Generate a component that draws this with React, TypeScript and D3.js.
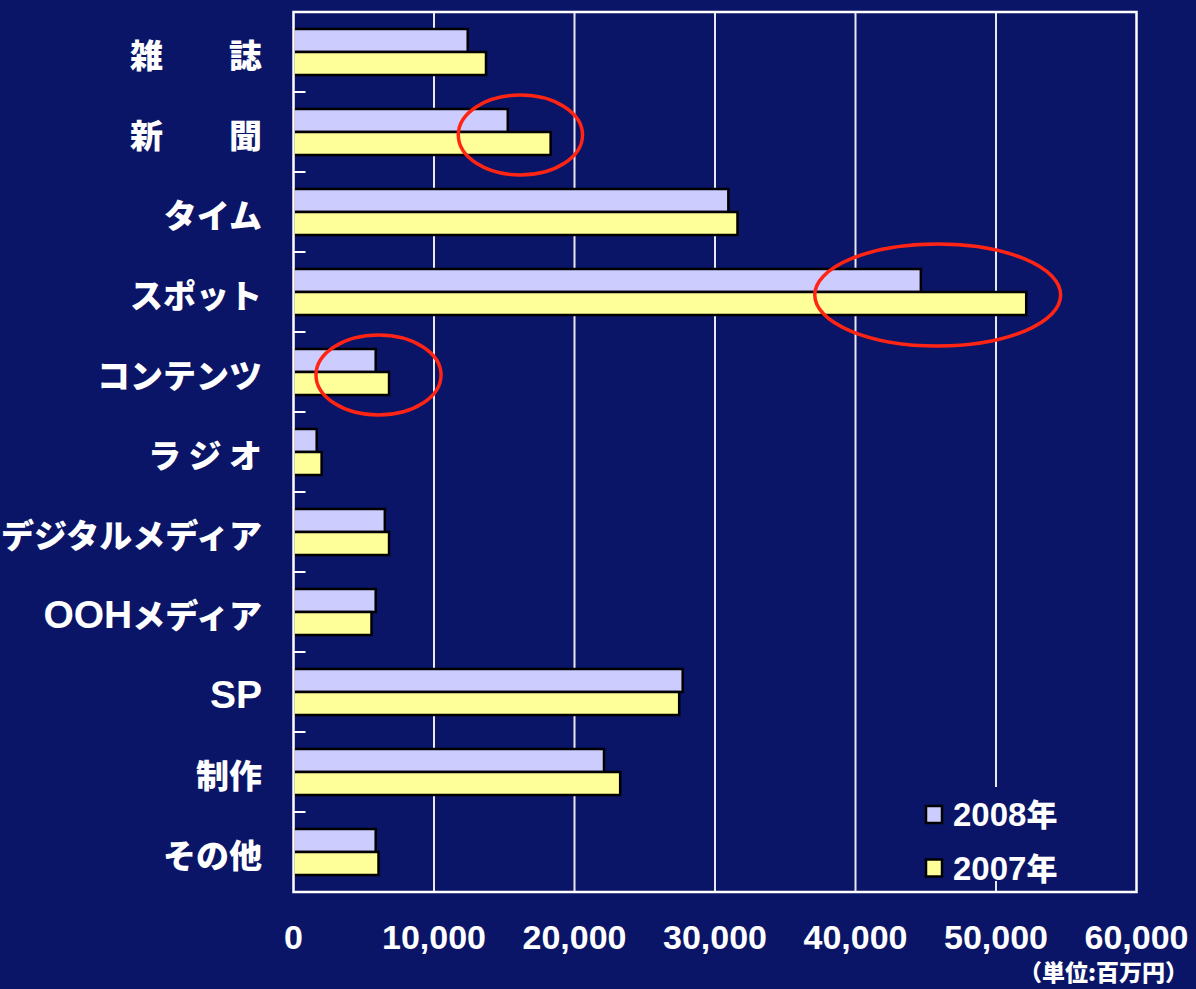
import React from "react";
import * as d3 from "d3";

const categories = ["雑　　誌", "新　　聞", "タイム", "スポット", "コンテンツ", "ラ ジ オ", "デジタルメディア", "OOHメディア", "SP", "制作", "その他"];
const values2008 = [12400, 15250, 30950, 44650, 5850, 1650, 6500, 5850, 27700, 22100, 5850];
const values2007 = [13700, 18300, 31600, 52150, 6800, 2000, 6800, 5550, 27450, 23250, 6050];
const seriesNames = ["2008年", "2007年"];
const xTicks = [0, 10000, 20000, 30000, 40000, 50000, 60000];
const unitLabel = "（単位:百万円）";
const highlights = [
  { category: "新　　聞", center: 16150, radius: 4420, ry: 40 },
  { category: "スポット", center: 45850, radius: 8750, ry: 51 },
  { category: "コンテンツ", center: 6050, radius: 4450, ry: 40 },
];

const W = 1196;
const H = 989;
const M = { left: 293.5, right: 1136.5, top: 12, bottom: 892 };
const BG = "#0a1567";
const COLORS = ["#ccccff", "#ffff99"];
const JP = "'Noto Sans CJK JP', sans-serif";
const LAT = "'Liberation Sans', Arial, sans-serif";

function runs(s: string) {
  const out: { t: string; latin: boolean }[] = [];
  for (const ch of s) {
    const latin = /[A-Za-z0-9]/.test(ch);
    const last = out[out.length - 1];
    if (last && last.latin === latin) last.t += ch;
    else out.push({ t: ch, latin });
  }
  return out;
}

export default function App() {
  const x = d3.scaleLinear().domain([0, 60000]).range([M.left, M.right]);
  const y = d3.scaleBand<string>().domain(categories).range([M.top, M.bottom]).paddingInner(0.425).paddingOuter(0.2125);
  const sub = d3.scaleBand<string>().domain(seriesNames).range([0, y.bandwidth()]);
  const step = y.step();
  const series = [values2008, values2007];

  return (
    <svg width={W} height={H} style={{ position: "absolute", left: 0, top: 0, background: BG }}>
      <rect x={0} y={0} width={W} height={H} fill={BG} />
      {/* gridlines */}
      {xTicks.slice(1, -1).map((t) => (
        <line key={t} x1={x(t)} x2={x(t)} y1={M.top} y2={M.bottom} stroke="#e8e8f0" strokeWidth={2} />
      ))}
      {/* bars */}
      {series.map((vals, si) =>
        categories.map((c, i) => (
          <rect
            key={si + "-" + c}
            x={x(0)}
            y={(y(c) as number) + (sub(seriesNames[si]) as number)}
            width={x(vals[i]) - x(0)}
            height={sub.bandwidth()}
            fill={COLORS[si]}
            stroke="#000"
            strokeWidth={2.5}
          />
        ))
      )}
      {/* frame */}
      <rect x={M.left} y={M.top} width={M.right - M.left} height={M.bottom - M.top} fill="none" stroke="#fff" strokeWidth={2.5} />
      {/* category ticks */}
      {categories.slice(1).map((c, i) => {
        const yy = M.top + (i + 1) * step;
        return <line key={c} x1={M.left} x2={M.left + 12} y1={yy} y2={yy} stroke="#fff" strokeWidth={2} />;
      })}
      {/* category labels */}
      {categories.map((c) => (
        <text
          key={c}
          x={262}
          y={(y(c) as number) + y.bandwidth() / 2 + 2}
          textAnchor="end"
          dominantBaseline="central"
          fill="#fff"
          fontFamily={JP}
          fontWeight={900}
          fontSize={33}
        >
          {runs(c).map((r, k) =>
            r.latin ? (
              <tspan key={k} fontFamily={LAT} fontSize={39}>
                {r.t}
              </tspan>
            ) : (
              <tspan key={k}>{r.t}</tspan>
            )
          )}
        </text>
      ))}
      {/* x tick labels */}
      {xTicks.map((t) => (
        <text key={t} x={x(t)} y={949} textAnchor="middle" fill="#fff" fontFamily={LAT} fontWeight={700} fontSize={34}>
          {d3.format(",")(t)}
        </text>
      ))}
      <text x={1188} y={981} textAnchor="end" fill="#fff" fontFamily={JP} fontWeight={900} fontSize={23}>
        {unitLabel}
      </text>
      {/* legend */}
      <rect x={912} y={787} width={170} height={94} fill={BG} />
      {seriesNames.map((s, i) => (
        <g key={s} transform={`translate(926, ${806 + i * 53.5})`}>
          <rect x={0} y={0} width={16} height={17} fill={COLORS[i]} stroke="#000" strokeWidth={2.5} />
          <text x={27} y={20} fill="#fff" fontFamily={LAT} fontWeight={700} fontSize={33}>
            {s.replace("年", "")}
            <tspan fontFamily={JP} fontWeight={900} fontSize={31}>年</tspan>
          </text>
        </g>
      ))}
      {/* highlight ellipses */}
      {highlights.map((h) => (
        <ellipse
          key={h.category}
          cx={x(h.center)}
          cy={(y(h.category) as number) + y.bandwidth() / 2 + 3}
          rx={x(h.radius) - x(0)}
          ry={h.ry}
          fill="none"
          stroke="#ff2414"
          strokeWidth={3.5}
        />
      ))}
    </svg>
  );
}
